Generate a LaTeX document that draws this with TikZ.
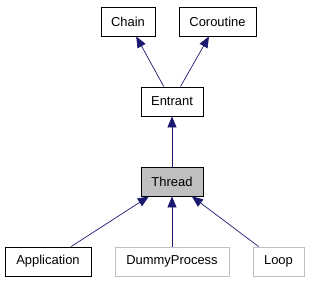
\documentclass[tikz,border=0pt]{standalone}
\usepackage{fontspec}
\setmainfont{Liberation Sans}
\usetikzlibrary{arrows.meta, positioning}

\definecolor{edgeblue}{HTML}{191970}
\definecolor{boxgray}{HTML}{BFBFBF}

\tikzset{
  cls/.style={draw=black, line width=0.9bp, minimum height=29bp, inner sep=0pt,
    font=\fontsize{13}{15}\selectfont},
  clsgray/.style={cls, draw=boxgray},
  clsthis/.style={cls, fill=boxgray},
  inherit/.style={draw=edgeblue, line width=0.7bp,
    -{Triangle[length=11bp,width=9bp,fill=edgeblue]}}
}

\begin{document}
\begin{tikzpicture}[x=1bp, y=1bp]
\useasboundingbox (0,0) rectangle (309,283);
\node[cls, minimum width=54bp] (chain) at (128,261.5) {Chain};
\node[cls, minimum width=77bp] (coroutine) at (217.5,261.5) {Coroutine};
\node[cls, minimum width=62bp] (entrant) at (172,181.5) {Entrant};
\node[clsthis, minimum width=62bp] (thread) at (172,101.5) {Thread};
\node[cls, minimum width=86bp] (application) at (48,21.5) {Application};
\node[clsgray, minimum width=114bp] (dummy) at (172,21.5) {DummyProcess};
\node[clsgray, minimum width=51bp] (loop) at (278.5,21.5) {Loop};
\draw[inherit] (entrant) -- (chain);
\draw[inherit] (entrant) -- (coroutine);
\draw[inherit] (thread) -- (entrant);
\draw[inherit] (application) -- (thread);
\draw[inherit] (dummy) -- (thread);
\draw[inherit] (loop) -- (thread);
\end{tikzpicture}
\end{document}
